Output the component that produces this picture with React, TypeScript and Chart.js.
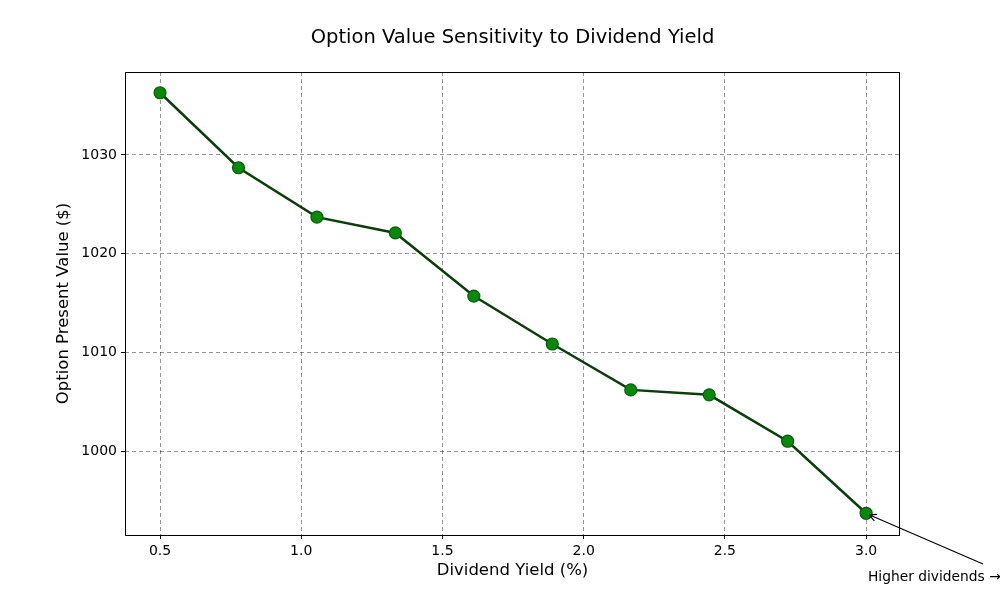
import React, { useEffect, useRef } from "react";
import { Chart, registerables } from "chart.js";

Chart.register(...registerables);

const dividendYields = [0.5, 0.7778, 1.0556, 1.3333, 1.6111, 1.8889, 2.1667, 2.4444, 2.7222, 3.0];
const optionValues = [1036.3, 1028.7, 1023.7, 1022.1, 1015.7, 1010.85, 1006.2, 1005.7, 1001.0, 993.7];
const xTicks = [0.5, 1.0, 1.5, 2.0, 2.5, 3.0];
const yTicks = [1000, 1010, 1020, 1030];

const titleText = "Option Value Sensitivity to Dividend Yield";
const xLabel = "Dividend Yield (%)";
const yLabel = "Option Present Value ($)";
const annotationText = "Higher dividends \u2192";

const FONT = "'DejaVu Sans', sans-serif";

const decorPlugin = {
  id: "decor",
  afterDraw(chart: any) {
    const { ctx, chartArea } = chart;
    const { left, right, top, bottom } = chartArea;
    ctx.save();
    // frame
    ctx.strokeStyle = "#000";
    ctx.lineWidth = 1;
    ctx.setLineDash([]);
    ctx.strokeRect(left + 0.5, top + 0.5, right - left - 1, bottom - top);
    // title
    ctx.fillStyle = "#000";
    ctx.textAlign = "center";
    ctx.textBaseline = "middle";
    ctx.font = `19.5px ${FONT}`;
    ctx.fillText(titleText, (left + right) / 2, 38);
    // x label
    ctx.font = `16.5px ${FONT}`;
    ctx.fillText(xLabel, (left + right) / 2, 571);
    // y label
    ctx.save();
    ctx.translate(64, (top + bottom) / 2);
    ctx.rotate(-Math.PI / 2);
    ctx.fillText(yLabel, 0, 0);
    ctx.restore();
    // annotation
    const xs = chart.scales.x;
    const ys = chart.scales.y;
    const n = dividendYields.length - 1;
    const px = xs.getPixelForValue(dividendYields[n]);
    const py = ys.getPixelForValue(optionValues[n]);
    ctx.font = `13.8px ${FONT}`;
    ctx.textAlign = "left";
    ctx.textBaseline = "middle";
    ctx.fillText(annotationText, 868, 577);
    const sx = 983, sy = 564;
    const tx = px + 3, ty = py + 1.5;
    ctx.strokeStyle = "#000";
    ctx.lineWidth = 1.2;
    ctx.beginPath();
    ctx.moveTo(sx, sy);
    ctx.lineTo(tx, ty);
    const ang = Math.atan2(ty - sy, tx - sx);
    const hl = 8;
    ctx.moveTo(tx, ty);
    ctx.lineTo(tx - hl * Math.cos(ang - 0.45), ty - hl * Math.sin(ang - 0.45));
    ctx.moveTo(tx, ty);
    ctx.lineTo(tx - hl * Math.cos(ang + 0.45), ty - hl * Math.sin(ang + 0.45));
    ctx.stroke();
    ctx.restore();
  },
};

const gridOpts = {
  color: "rgba(0,0,0,0.42)",
  tickColor: "#000",
  tickLength: 4,
  tickBorderDash: [],
  tickWidth: 1,
  lineWidth: 1,
};

export default function App() {
  const canvasRef = useRef<HTMLCanvasElement | null>(null);

  useEffect(() => {
    document.body.style.margin = "0";
    const canvas = canvasRef.current;
    if (!canvas) return;
    const chart = new Chart(canvas, {
      type: "line",
      data: {
        datasets: [
          {
            data: dividendYields.map((x, i) => ({ x, y: optionValues[i] })),
            borderColor: "#0b3d0b",
            borderWidth: 2.5,
            pointRadius: 6,
            pointBackgroundColor: "#078a07",
            pointBorderColor: "#0b5a0b",
            pointBorderWidth: 1.2,
            tension: 0,
          },
        ],
      },
      options: {
        animation: false,
        responsive: false,
        devicePixelRatio: 1,
        layout: { padding: { left: 0, right: 100, top: 72, bottom: 0 } },
        plugins: { legend: { display: false }, tooltip: { enabled: false }, title: { display: false } },
        scales: {
          x: {
            type: "linear",
            min: 0.376,
            max: 3.12,
            afterFit(scale: any) {
              scale.height = 65;
            },
            afterBuildTicks(scale: any) {
              scale.ticks = xTicks.map((v) => ({ value: v }));
            },
            grid: gridOpts,
            border: { display: false, dash: [4, 3] },
            ticks: {
              color: "#000",
              font: { family: FONT, size: 14 },
              padding: 4,
              maxRotation: 0,
              callback: (v: any) => Number(v).toFixed(1),
            },
          },
          y: {
            type: "linear",
            min: 991.5,
            max: 1038.4,
            afterFit(scale: any) {
              scale.width = 125;
            },
            afterBuildTicks(scale: any) {
              scale.ticks = yTicks.map((v) => ({ value: v }));
            },
            grid: gridOpts,
            border: { display: false, dash: [4, 3] },
            ticks: {
              color: "#000",
              font: { family: FONT, size: 14 },
              padding: 4,
              callback: (v: any) => String(v),
            },
          },
        },
      },
      plugins: [decorPlugin],
    } as any);
    return () => chart.destroy();
  }, []);

  return (
    <div style={{ position: "absolute", left: 0, top: 0, width: 1000, height: 600, background: "#fff" }}>
      <canvas ref={canvasRef} width={1000} height={600} style={{ width: 1000, height: 600 }} />
    </div>
  );
}
